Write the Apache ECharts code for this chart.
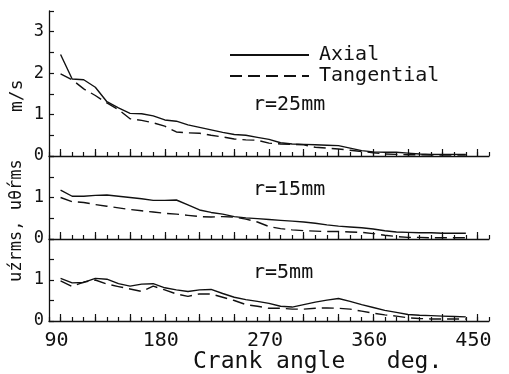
<!DOCTYPE html>
<html>
<head>
<meta charset="utf-8">
<script src="https://cdn.jsdelivr.net/npm/echarts@6/dist/echarts.min.js"></script>
<style>
  html, body { margin: 0; padding: 0; background: #fff; }
  #chart { width: 509px; height: 374px; }
</style>
</head>
<body>
<div id="chart"></div>
<script>
// Crank angle (deg) at which the rms velocities were sampled
const angles = [90, 100, 110, 120, 130, 140, 150, 160, 170, 180, 190, 200,
  210, 220, 230, 240, 250, 260, 270, 280, 290, 300, 310, 320,
  330, 340, 350, 360, 370, 380, 390, 400, 410, 420, 430, 440];

// r = 25 mm
const axial25 = [2.45, 1.86, 1.84, 1.66, 1.31, 1.16, 1.03, 1.02, 0.97, 0.87, 0.84, 0.75,
  0.69, 0.63, 0.57, 0.52, 0.50, 0.45, 0.40, 0.32, 0.29, 0.28, 0.27, 0.26,
  0.25, 0.19, 0.13, 0.10, 0.09, 0.09, 0.07, 0.05, 0.04, 0.04, 0.04, 0.04];
const tang25 = [1.98, 1.84, 1.62, 1.46, 1.28, 1.12, 0.90, 0.86, 0.80, 0.72, 0.58, 0.56,
  0.55, 0.50, 0.46, 0.41, 0.39, 0.38, 0.31, 0.29, 0.28, 0.27, 0.21, 0.19,
  0.17, 0.14, 0.11, 0.08, 0.05, 0.04, 0.03, 0.03, 0.02, 0.02, 0.02, 0.02];

// r = 15 mm
const axial15 = [1.18, 1.03, 1.03, 1.05, 1.06, 1.03, 1.00, 0.97, 0.93, 0.93, 0.94, 0.82,
  0.70, 0.64, 0.60, 0.54, 0.51, 0.49, 0.47, 0.45, 0.43, 0.41, 0.38, 0.34,
  0.31, 0.29, 0.27, 0.24, 0.20, 0.17, 0.16, 0.15, 0.15, 0.14, 0.14, 0.14];
const tang15 = [1.00, 0.90, 0.88, 0.83, 0.79, 0.75, 0.71, 0.68, 0.65, 0.62, 0.60, 0.57,
  0.54, 0.53, 0.54, 0.53, 0.48, 0.41, 0.30, 0.25, 0.22, 0.20, 0.19, 0.18,
  0.18, 0.17, 0.16, 0.13, 0.09, 0.06, 0.04, 0.04, 0.03, 0.03, 0.03, 0.03];

// r = 5 mm
const axial5 = [1.04, 0.93, 0.94, 1.04, 1.02, 0.91, 0.85, 0.90, 0.91, 0.81, 0.76, 0.72,
  0.76, 0.77, 0.67, 0.58, 0.52, 0.48, 0.43, 0.36, 0.34, 0.40, 0.46, 0.51,
  0.55, 0.48, 0.40, 0.33, 0.26, 0.21, 0.16, 0.14, 0.13, 0.12, 0.11, 0.10];
const tang5 = [0.98, 0.84, 0.95, 1.00, 0.90, 0.84, 0.78, 0.72, 0.85, 0.76, 0.66, 0.60,
  0.66, 0.66, 0.58, 0.50, 0.40, 0.36, 0.31, 0.31, 0.29, 0.29, 0.31, 0.32,
  0.31, 0.29, 0.24, 0.19, 0.15, 0.12, 0.08, 0.06, 0.05, 0.05, 0.05, 0.05];

const panelLabels = ['r=25mm', 'r=15mm', 'r=5mm'];
const xTickLabels = [90, 180, 270, 360, 450];
const longTicks = [90, 120, 150, 180, 210, 240, 270, 300, 330, 360, 390, 420, 450];
const seriesNames = ['Axial', 'Tangential'];

const FONT = 'DejaVu Sans Mono';
const INK = '#111';

const chart = echarts.init(document.getElementById('chart'), null, { renderer: 'canvas' });

const grids = [
  { left: 49, width: 440, top: 11, height: 145 },
  { left: 49, width: 440, top: 156, height: 83 },
  { left: 49, width: 440, top: 239, height: 82 }
];
const yMax = [3.5, 2, 2];

const xAxes = [];
const yAxes = [];
grids.forEach((g, i) => {
  // short ticks every 10 deg, labels on the bottom panel only
  xAxes.push({
    type: 'value', gridIndex: i, position: 'bottom', min: 80, max: 460, interval: 10,
    axisLine: { show: true, lineStyle: { color: INK, width: 1.3 } },
    axisTick: { show: true, inside: true, length: 4, lineStyle: { color: INK, width: 1.2 } },
    splitLine: { show: false },
    axisLabel: {
      show: i === 2, margin: 10, color: INK, fontFamily: FONT, fontSize: 20,
      padding: [0, 8, 0, 0],
      formatter: v => (xTickLabels.indexOf(v) >= 0 ? String(v) : '')
    }
  });
  // longer ticks every 30 deg, on the same baseline
  xAxes.push({
    type: 'value', gridIndex: i, position: 'bottom', min: 80, max: 460,
    axisLine: { show: false },
    axisTick: { show: true, inside: true, length: 7, customValues: longTicks,
      lineStyle: { color: INK, width: 1.2 } },
    splitLine: { show: false },
    axisLabel: { show: false }
  });
  yAxes.push({
    type: 'value', gridIndex: i, min: 0, max: yMax[i], interval: 0.5,
    axisLine: { show: true, lineStyle: { color: INK, width: 1.3 } },
    axisTick: { show: true, inside: true, length: 5, lineStyle: { color: INK, width: 1.2 } },
    splitLine: { show: false },
    axisLabel: {
      margin: 5, color: INK, fontFamily: FONT, fontSize: 17,
      formatter: v => (Number.isInteger(v) && (i === 0 || v < 2) ? String(v) : '')
    }
  });
});

const panelData = [[axial25, tang25], [axial15, tang15], [axial5, tang5]];
const series = [];
panelData.forEach((pair, i) => {
  pair.forEach((vals, k) => {
    series.push({
      name: seriesNames[k],
      type: 'line',
      xAxisIndex: i * 2,
      yAxisIndex: i,
      symbol: 'none',
      showSymbol: false,
      animation: false,
      lineStyle: { color: INK, width: 1.4, type: k === 0 ? 'solid' : [12, 6] },
      itemStyle: { color: INK },
      data: angles.map((a, j) => [a, vals[j]])
    });
  });
});

const graphic = [
  { type: 'text', left: 253, top: 95, style: { text: panelLabels[0], font: '20px "' + FONT + '"', fill: INK } },
  { type: 'text', left: 253, top: 180, style: { text: panelLabels[1], font: '20px "' + FONT + '"', fill: INK } },
  { type: 'text', left: 253, top: 263, style: { text: panelLabels[2], font: '20px "' + FONT + '"', fill: INK } },
  { type: 'text', x: 8, y: 112, rotation: Math.PI / 2,
    style: { text: 'm/s', font: '18px "' + FONT + '"', fill: INK } },
  { type: 'text', x: 8, y: 282, rotation: Math.PI / 2,
    style: { text: 'uźrms, uθ́rms', font: '17px "' + FONT + '"', fill: INK } },
  { type: 'text', left: 193, top: 351,
    style: { text: 'Crank angle   deg.', font: '23px "' + FONT + '"', fill: INK } }
];

chart.setOption({
  animation: false,
  backgroundColor: '#fff',
  grid: grids,
  xAxis: xAxes,
  yAxis: yAxes,
  series: series,
  graphic: graphic,
  legend: {
    data: seriesNames,
    orient: 'vertical',
    left: 229, top: 45, padding: 0,
    itemWidth: 79, itemHeight: 14, itemGap: 1,
    itemStyle: { color: 'rgba(0,0,0,0)', borderWidth: 0, borderColor: 'rgba(0,0,0,0)' },
    textStyle: { fontFamily: FONT, fontSize: 20, color: INK, lineHeight: 14, padding: [0, 0, 0, 5] }
  }
});
</script>
</body>
</html>
